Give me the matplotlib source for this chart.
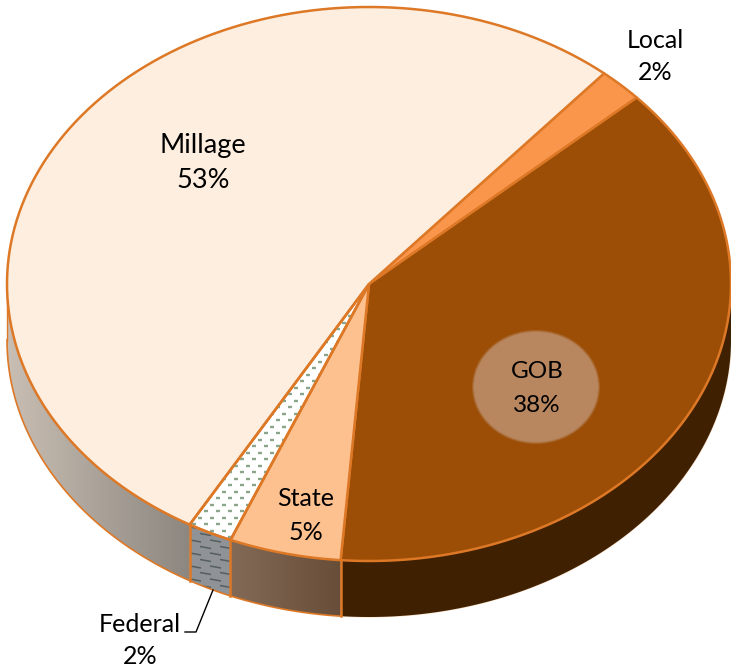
import numpy as np
import matplotlib
matplotlib.use("Agg")
import matplotlib.pyplot as plt
from matplotlib.patches import Polygon, Ellipse
from matplotlib.collections import LineCollection

plt.rcParams['font.family'] = ['Lato', 'DejaVu Sans']

# Funding sources, clockwise from the Local wedge
categories = ["Local", "GOB", "State", "Federal", "Millage"]
shares = [2, 38, 5, 2, 53]
top_colors = ["#f9964b", "#9c4e06", "#fdc08f", "#ffffff", "#fdeedf"]

CX, CY, RX, RY, DEPTH = 369.0, 284.0, 362.0, 277.0, 56.0
START = 49.5
EDGE = "#dd7826"

fig = plt.figure(figsize=(7.31, 6.69), dpi=100)
ax = fig.add_axes([0, 0, 1, 1])
ax.set_xlim(0, 731)
ax.set_ylim(669, 0)
ax.axis("off")


def rim(a1, a2, drop=0.0, n=120):
    t = np.radians(np.linspace(a1, a2, n))
    return np.column_stack([CX + RX * np.cos(t), CY - RY * np.sin(t) + drop])


def side_patch(a1, a2, **kw):
    pts = np.vstack([rim(a1, a2), rim(a2, a1, DEPTH)])
    return ax.add_patch(Polygon(pts, closed=True, **kw))


def gradient_fill(patch, c0, c1, z):
    box = patch.get_path().get_extents()
    c0 = np.array(matplotlib.colors.to_rgb(c0))
    c1 = np.array(matplotlib.colors.to_rgb(c1))
    ramp = np.linspace(0, 1, 256)[None, :, None]
    img = c0[None, None, :] * (1 - ramp) + c1[None, None, :] * ramp
    im = ax.imshow(img, extent=(box.x0, box.x1, box.y1, box.y0), aspect="auto", zorder=z)
    im.set_clip_path(patch)
    ax.set_xlim(0, 731)
    ax.set_ylim(669, 0)


# wedge boundaries from the shares
fractions = np.array(shares) / sum(shares)
bounds = START - np.concatenate([[0], np.cumsum(fractions) * 360])
spans = dict(zip(categories, zip(bounds[:-1], bounds[1:])))

# outer wall of the disc, front half only
a_gob, a_state, a_fed = bounds[2], bounds[3], bounds[4]

side_patch(0, a_gob, facecolor="#3f2000", edgecolor="none", zorder=2)

p = side_patch(a_gob, a_state, facecolor="none", edgecolor="none", zorder=2)
gradient_fill(p, "#836a57", "#684e38", 2)

p = side_patch(a_state, a_fed, facecolor="#8f9297", edgecolor="none", zorder=2)
xx, yy = np.meshgrid(np.arange(170, 250, 20.0), np.arange(525, 610, 6.5))
xx = xx + (np.arange(yy.shape[0])[:, None] % 2) * 10
segs = [[(x, y + 2), (x + 11, y + 4)] for x, y in zip(xx.ravel(), yy.ravel())]
dashes = LineCollection(segs, colors="#555f5e", linewidths=1.1, zorder=3)
ax.add_collection(dashes)
dashes.set_clip_path(p)

p = side_patch(a_fed, -180, facecolor="none", edgecolor="none", zorder=2)
gradient_fill(p, "#c9beb3", "#8c8780", 2)

# wall outlines
ax.plot(*rim(-180, a_gob, DEPTH).T, color=EDGE, lw=1.2, zorder=4)
ax.plot(*rim(a_gob, 0, DEPTH).T, color="#f6dcc4", lw=0.8, zorder=1)
for a in (a_gob, a_state, a_fed):
    x, y = rim(a, a, n=1)[0]
    ax.plot([x, x], [y, y + DEPTH], color=EDGE, lw=1.8, zorder=4)
ax.plot([7, 7], [CY, CY + DEPTH], color=EDGE, lw=1.0, zorder=4)

# top face
for name, color in zip(categories, top_colors):
    a1, a2 = spans[name]
    pts = np.vstack([[CX, CY], rim(a1, a2)])
    wedge = ax.add_patch(Polygon(pts, closed=True, facecolor=color,
                                 edgecolor=EDGE, lw=1.8, joinstyle="round", zorder=5))
    if name == "Federal":
        xx, yy = np.meshgrid(np.arange(180, 380, 12.0), np.arange(290, 550, 6.5))
        xx = xx + (np.arange(yy.shape[0])[:, None] % 2) * 6
        marks = [[(x, y), (x + 4, y)] for x, y in zip(xx.ravel(), yy.ravel())]
        dots = LineCollection(marks, colors="#8aa58a", linewidths=1.7, zorder=6)
        ax.add_collection(dots)
        dots.set_clip_path(wedge)
        ax.add_patch(Polygon(pts, closed=True, facecolor="none",
                             edgecolor=EDGE, lw=1.8, zorder=6))

# soft pale disc behind the GOB label
for grow, alpha in ((2.0, 0.35), (1.0, 0.6), (0.0, 1.0)):
    ax.add_patch(Ellipse((536, 387), 2 * (62 + grow), 2 * (55 + grow),
                         facecolor="#b8865f", edgecolor="none", alpha=alpha, zorder=7))

# labels: name and share on separate baselines
label_style = {"Millage": (203, 145, 181, 19.5), "Local": (655, 40, 72, 18),
               "GOB": (537, 372, 405, 17.5), "State": (306, 499, 532, 18),
               "Federal": (140, 624, 656, 18)}
for name, share in zip(categories, shares):
    x, y1, y2, size = label_style[name]
    ax.text(x, y1, name, ha="center", va="center", fontsize=size, color="black", zorder=8)
    ax.text(x, y2, f"{share}%", ha="center", va="center", fontsize=size, color="black", zorder=8)

# leader line for the Federal label
ax.plot([185, 196, 213], [632, 632, 590], color="black", lw=1.0, zorder=8)

fig.savefig("out.png", dpi=100, facecolor="white")
